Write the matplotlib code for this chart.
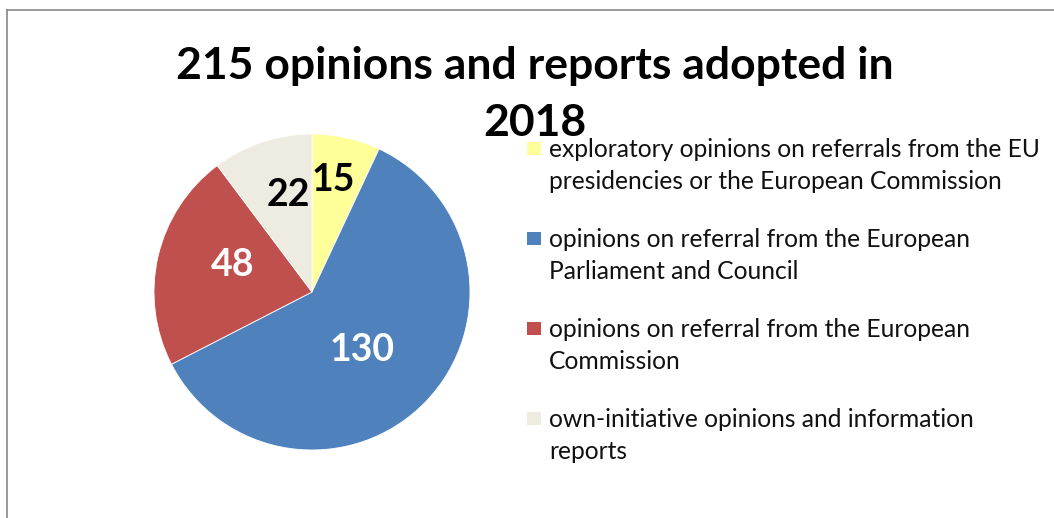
import matplotlib
matplotlib.use("Agg")
import matplotlib.pyplot as plt
from matplotlib.patches import Rectangle
from matplotlib.lines import Line2D
import numpy as np

# Opinions and reports adopted in 2018, by type
categories = [
    "exploratory opinions on referrals from the EU\npresidencies or the European Commission",
    "opinions on referral from the European\nParliament and Council",
    "opinions on referral from the European\nCommission",
    "own-initiative opinions and information\nreports",
]
counts = [15, 130, 48, 22]
colours = ["#FFFF99", "#4F81BD", "#C0504D", "#EEECE1"]
label_colours = ["black", "white", "white", "black"]

plt.rcParams["font.family"] = ["Lato", "DejaVu Sans"]

W, H = 1054, 518
fig = plt.figure(figsize=(W / 100, H / 100), dpi=100)

# pie axes: centre (312, 292) px, radius 158 px
cx, cy, r = 312, 292, 158
ax = fig.add_axes([(cx - r) / W, (H - cy - r) / H, 2 * r / W, 2 * r / H])
wedges, _ = ax.pie(counts, colors=colours, startangle=90, counterclock=False,
                   radius=1, wedgeprops=dict(linewidth=0.6, edgecolor="white"))
ax.set_xlim(-1, 1)
ax.set_ylim(-1, 1)
ax.set_aspect("auto")
ax.axis("off")

# value labels inside the slices
dist = [0.72, 0.485, 0.528, 0.631]
shift = [2, -5.3, -6, -5]   # degrees, nudges off the slice bisector
for w, n, d, s, c in zip(wedges, counts, dist, shift, label_colours):
    mid = np.deg2rad((w.theta1 + w.theta2) / 2 + s)
    ax.text(d * np.cos(mid), d * np.sin(mid), str(n), ha="center", va="center",
            fontsize=27, fontweight="bold", color=c)

# title (baseline of the last line)
fig.text(535 / W, 1 - 136 / H, "215 opinions and reports adopted in\n2018",
         ha="center", va="baseline", fontsize=32, fontweight="bold",
         linespacing=1.52, color="black")

# legend drawn as squares + wrapped text
for i, (lab, col) in enumerate(zip(categories, colours)):
    y0 = 148 + 90 * i
    fig.add_artist(Rectangle((527 / W, 1 - (y0 + 7) / H), 14 / W, 13 / H,
                             transform=fig.transFigure, facecolor=col,
                             edgecolor="none"))
    fig.text(549 / W, 1 - (y0 + 41) / H, lab, ha="left", va="baseline",
             fontsize=17.7, linespacing=1.48, color="#111111")

# outer frame
fx, fy = 6.5 / W, 1 - 9.5 / H
fig.add_artist(Line2D([fx, fx], [0, fy], transform=fig.transFigure,
                      color="#888888", lw=1.2))
fig.add_artist(Line2D([fx, 1], [fy, fy], transform=fig.transFigure,
                      color="#888888", lw=1.2))

fig.savefig("out.png", dpi=100)
